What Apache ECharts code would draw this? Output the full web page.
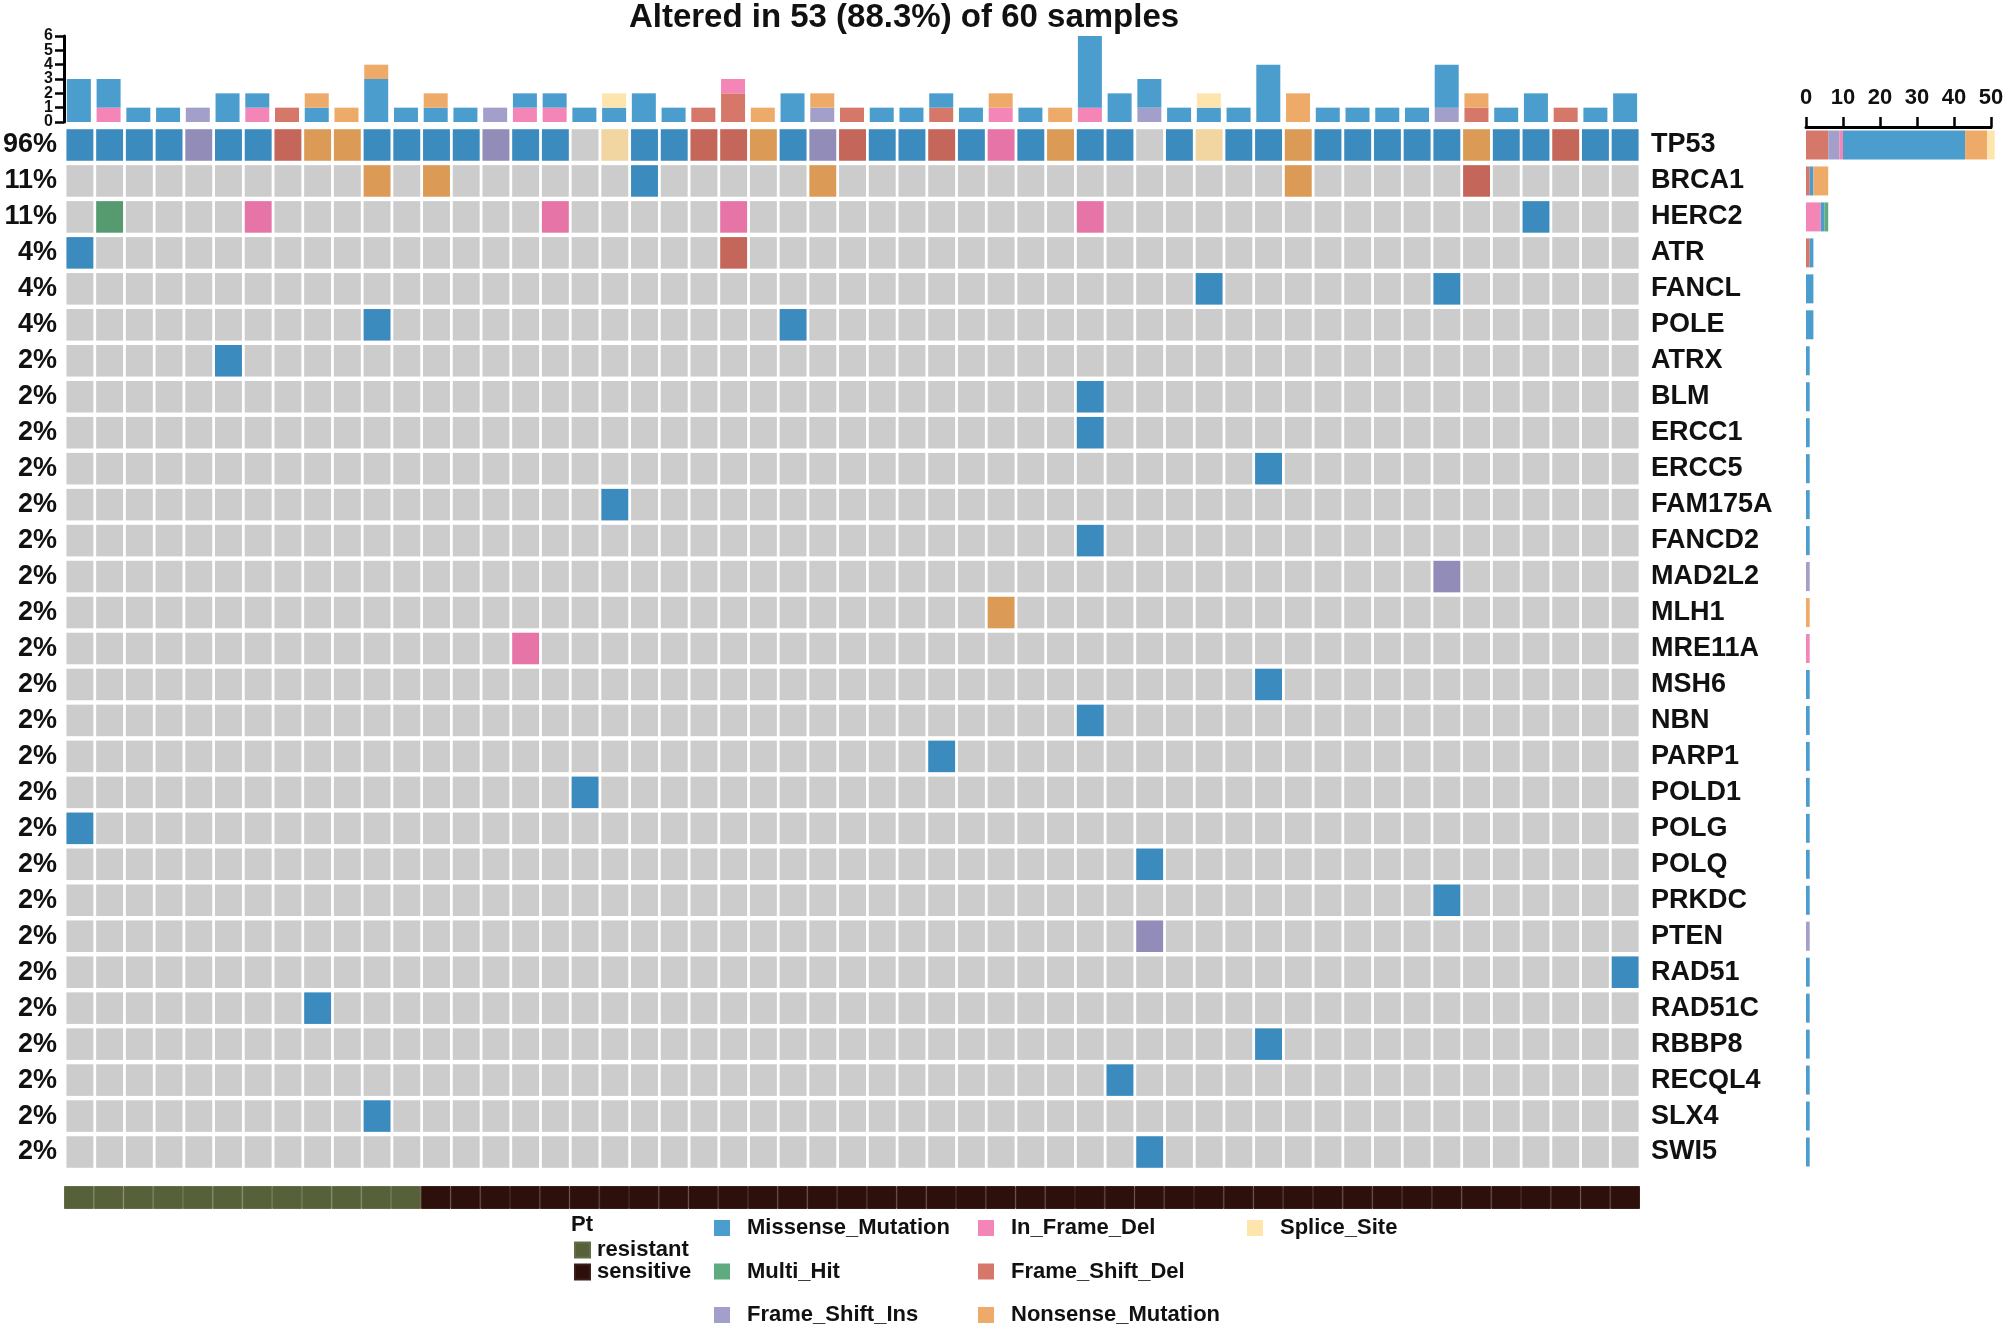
<!DOCTYPE html>
<html><head><meta charset="utf-8">
<script src="https://cdn.jsdelivr.net/npm/echarts@6/dist/echarts.min.js"></script>
<style>html,body{margin:0;padding:0;background:#fff}#c{width:2008px;height:1331px}</style>
</head><body><div id="c"></div>
<script>
// ---------------- data ----------------
const titleText = 'Altered in 53 (88.3%) of 60 samples';
const genes = ['TP53','BRCA1','HERC2','ATR','FANCL','POLE','ATRX','BLM','ERCC1','ERCC5','FAM175A','FANCD2','MAD2L2','MLH1','MRE11A','MSH6','NBN','PARP1','POLD1','POLG','POLQ','PRKDC','PTEN','RAD51','RAD51C','RBBP8','RECQL4','SLX4','SWI5'];
const pctLabels = ['96%','11%','11%','4%','4%','4%','2%','2%','2%','2%','2%','2%','2%','2%','2%','2%','2%','2%','2%','2%','2%','2%','2%','2%','2%','2%','2%','2%','2%'];
// codes: D Frame_Shift_Del, I Frame_Shift_Ins, F In_Frame_Del, M Missense, N Nonsense, S Splice_Site, H Multi_Hit
const classCodes = ['D','I','F','M','N','S','H'];
const classNames = ['Frame_Shift_Del','Frame_Shift_Ins','In_Frame_Del','Missense_Mutation','Nonsense_Mutation','Splice_Site','Multi_Hit'];
// TP53 row, 53 altered samples in plot order
const tp53Row = ['M','M','M','M','I','M','M','D','N','N','M','M','M','M','I','M','M','','S','M','M','D','D','N','M','I','D','M','M','D','M','F','M','N','M','M','','M','S','M','M','N','M','M','M','M','M','N','M','M','D','M','M'];
// other genes: [gene, sample (1-based), code]
const otherAlterations = [
  ['BRCA1',11,'N'],['BRCA1',13,'N'],['BRCA1',20,'M'],['BRCA1',26,'N'],['BRCA1',42,'N'],['BRCA1',48,'D'],
  ['HERC2',2,'H'],['HERC2',7,'F'],['HERC2',17,'F'],['HERC2',23,'F'],['HERC2',35,'F'],['HERC2',50,'M'],
  ['ATR',1,'M'],['ATR',23,'D'],
  ['FANCL',39,'M'],['FANCL',47,'M'],
  ['POLE',11,'M'],['POLE',25,'M'],
  ['ATRX',6,'M'],['BLM',35,'M'],['ERCC1',35,'M'],['ERCC5',41,'M'],['FAM175A',19,'M'],['FANCD2',35,'M'],
  ['MAD2L2',47,'I'],['MLH1',32,'N'],['MRE11A',16,'F'],['MSH6',41,'M'],['NBN',35,'M'],['PARP1',30,'M'],
  ['POLD1',18,'M'],['POLG',1,'M'],['POLQ',37,'M'],['PRKDC',47,'M'],['PTEN',37,'I'],['RAD51',53,'M'],
  ['RAD51C',9,'M'],['RBBP8',41,'M'],['RECQL4',36,'M'],['SLX4',11,'M'],['SWI5',37,'M']
];
// multi-hit composition as seen in the top bar
const multiHitParts = [['HERC2',2,['F','M']]];
// clinical annotation (Pt) per sample
const ptRow = 'RRRRRRRRRRRRSSSSSSSSSSSSSSSSSSSSSSSSSSSSSSSSSSSSSSSSS'.split('');
const ptNames = {R:'resistant', S:'sensitive'};
const topTicks = [0,1,2,3,4,5,6];
const sideTicks = [0,10,20,30,40,50];

// ---------------- styles ----------------
const barColor = {D:'#D5786A', I:'#A39FCB', F:'#F486B7', M:'#4B9DCE', N:'#EEAA68', S:'#FEE5AE', H:'#5DAB7F'};
const cellColor = {D:'#C4665A', I:'#928CB8', F:'#E674A7', M:'#3B8BBF', N:'#DC9A57', S:'#F1D6A2', H:'#569A70', '':'#CCCCCC'};
const ptColor = {R:'#566039', S:'#2D100B'};
const ptBorder = {R:'#646D48', S:'#3B1E19'};
const FONT = '"Liberation Sans", Arial, sans-serif';

// ---------------- build matrix ----------------
const nS = tp53Row.length;
const samples = tp53Row.map((_, i) => 'S' + (i + 1));
const matrix = genes.map(() => new Array(nS).fill(''));
tp53Row.forEach((c, i) => { matrix[0][i] = c; });
otherAlterations.forEach(([g, s, c]) => { matrix[genes.indexOf(g)][s - 1] = c; });

const cellData = [];
matrix.forEach((row, gi) => row.forEach((c, si) => cellData.push([si, gi, c])));

// top bar: counts per sample per class (multi hits decomposed)
const topCounts = {};
classCodes.forEach(c => topCounts[c] = new Array(nS).fill(0));
matrix.forEach((row, gi) => row.forEach((c, si) => {
  if (!c) return;
  if (c === 'H') {
    const mh = multiHitParts.find(m => m[0] === genes[gi] && m[1] === si + 1);
    mh[2].forEach(p => topCounts[p][si]++);
  } else topCounts[c][si]++;
}));
// side bar: counts per gene per class
const sideCounts = {};
classCodes.forEach(c => sideCounts[c] = genes.map((g, gi) => matrix[gi].filter(x => x === c).length));

// ---------------- option ----------------
const series = [];
classCodes.forEach((c, k) => {
  if (c === 'H') return;
  series.push({
    name: classNames[k], type: 'bar', stack: 'top', xAxisIndex: 0, yAxisIndex: 0,
    barWidth: 24, itemStyle: {color: barColor[c]},
    data: topCounts[c].map(v => v || null), animation: false
  });
});
// tick labels of the top bar axis, placed through the axis scale
series.push({
  name: 'topTickLabels', type: 'custom', xAxisIndex: 0, yAxisIndex: 0, animation: false, silent: true,
  data: topTicks.map(v => [0, v]),
  renderItem(params, api) {
    const p = api.coord([0, api.value(1)]);
    const bw = api.size([1, 0])[0];
    return {type: 'text', x: p[0] - bw / 2 - 11, y: p[1],
      style: {text: String(api.value(1)), align: 'right', verticalAlign: 'middle',
        font: 'bold 16px ' + FONT, fill: '#111'}};
  }
});
series.push({
  name: 'cells', type: 'custom', xAxisIndex: 1, yAxisIndex: 1, animation: false,
  data: cellData,
  renderItem(params, api) {
    const p = api.coord([api.value(0), api.value(1)]);
    const w = api.size([1, 0])[0], h = api.size([0, 1])[1];
    const code = cellData[params.dataIndex][2];
    return {type: 'rect', shape: {x: p[0] - w / 2 + 1.4, y: p[1] - h / 2 + 2.2, width: w - 2.8, height: h - 4.4},
      style: {fill: cellColor[code]}};
  }
});
classCodes.forEach((c, k) => {
  series.push({
    name: classNames[k], type: 'bar', stack: 'side', xAxisIndex: 2, yAxisIndex: 3,
    barWidth: 29, clip: false, itemStyle: {color: barColor[c]},
    data: sideCounts[c].map(v => v || null), animation: false
  });
});
['R', 'S'].forEach(g => {
  series.push({
    name: ptNames[g], type: 'bar', stack: 'pt', xAxisIndex: 3, yAxisIndex: 4, barWidth: '100%',
    itemStyle: {color: ptColor[g], borderColor: ptBorder[g], borderWidth: 1},
    data: ptRow.map(x => x === g ? 1 : null), animation: false
  });
});

const legendText = {fontFamily: FONT, fontWeight: 'bold', fontSize: 22, color: '#111', lineHeight: 22, padding: [0, 0, 0, 12]};
const option = {
  backgroundColor: '#fff',
  animation: false,
  title: [
    {text: titleText, left: 904, top: 1, padding: 0, textAlign: 'center',
     textStyle: {fontFamily: FONT, fontWeight: 'bold', fontSize: 33, color: '#111'}},
    {text: 'Pt', left: 571, top: 1214, padding: 0,
     textStyle: {fontFamily: FONT, fontWeight: 'bold', fontSize: 22, color: '#111'}}
  ],
  legend: [
    {data: ['resistant', 'sensitive'], orient: 'vertical', left: 574, top: 1239, padding: 0, itemGap: 0,
     itemWidth: 15, itemHeight: 15, icon: 'rect', selectedMode: false,
     textStyle: {fontFamily: FONT, fontWeight: 'bold', fontSize: 22, color: '#111', lineHeight: 19, padding: [0, 0, 0, 2]}},
    {data: ['Missense_Mutation', 'Multi_Hit', 'Frame_Shift_Ins'], orient: 'vertical', left: 714, top: 1217, padding: 0,
     itemGap: 21.5, itemWidth: 16, itemHeight: 16, icon: 'rect', selectedMode: false, textStyle: legendText},
    {data: ['In_Frame_Del', 'Frame_Shift_Del', 'Nonsense_Mutation'], orient: 'vertical', left: 978, top: 1217, padding: 0,
     itemGap: 21.5, itemWidth: 16, itemHeight: 16, icon: 'rect', selectedMode: false, textStyle: legendText},
    {data: ['Splice_Site'], orient: 'vertical', left: 1247, top: 1217, padding: 0,
     itemGap: 21.5, itemWidth: 16, itemHeight: 16, icon: 'rect', selectedMode: false, textStyle: legendText}
  ],
  grid: [
    {left: 64, top: 36, width: 1576, height: 86},
    {left: 64, top: 127, width: 1576, height: 1043},
    {left: 1806, top: 127, width: 185, height: 1043},
    {left: 64, top: 1186, width: 1576, height: 23}
  ],
  xAxis: [
    {type: 'category', gridIndex: 0, data: samples, show: false},
    {type: 'category', gridIndex: 1, data: samples, show: false},
    {type: 'value', gridIndex: 2, position: 'top', min: sideTicks[0], max: sideTicks[sideTicks.length - 1], interval: 10,
     axisLine: {show: true, lineStyle: {color: '#000', width: 3}},
     axisTick: {show: true, length: 10, lineStyle: {color: '#000', width: 2.5}},
     axisLabel: {fontFamily: FONT, fontWeight: 'bold', fontSize: 22, color: '#111', margin: 18},
     splitLine: {show: false}},
    {type: 'category', gridIndex: 3, data: samples, show: false}
  ],
  yAxis: [
    {type: 'value', gridIndex: 0, min: topTicks[0], max: topTicks[topTicks.length - 1], interval: 1,
     axisLine: {show: true, lineStyle: {color: '#000', width: 3}},
     axisTick: {show: true, length: 9, lineStyle: {color: '#000', width: 2.5}},
     axisLabel: {show: false},
     splitLine: {show: false}},
    {type: 'category', gridIndex: 1, data: genes, inverse: true, position: 'left',
     axisLine: {show: false}, axisTick: {show: false},
     axisLabel: {fontFamily: FONT, fontWeight: 'bold', fontSize: 27, color: '#111', margin: 8,
       formatter: (v, i) => pctLabels[i]}},
    {type: 'category', gridIndex: 1, data: genes, inverse: true, position: 'right',
     axisLine: {show: false}, axisTick: {show: false},
     axisLabel: {fontFamily: FONT, fontWeight: 'bold', fontSize: 27, color: '#111', margin: 11, align: 'left'}},
    {type: 'category', gridIndex: 2, data: genes, inverse: true, show: false},
    {type: 'value', gridIndex: 3, min: 0, max: 1, show: false}
  ],
  series
};
const chart = echarts.init(document.getElementById('c'), null, {renderer: 'canvas'});
chart.setOption(option);
</script>
</body></html>
